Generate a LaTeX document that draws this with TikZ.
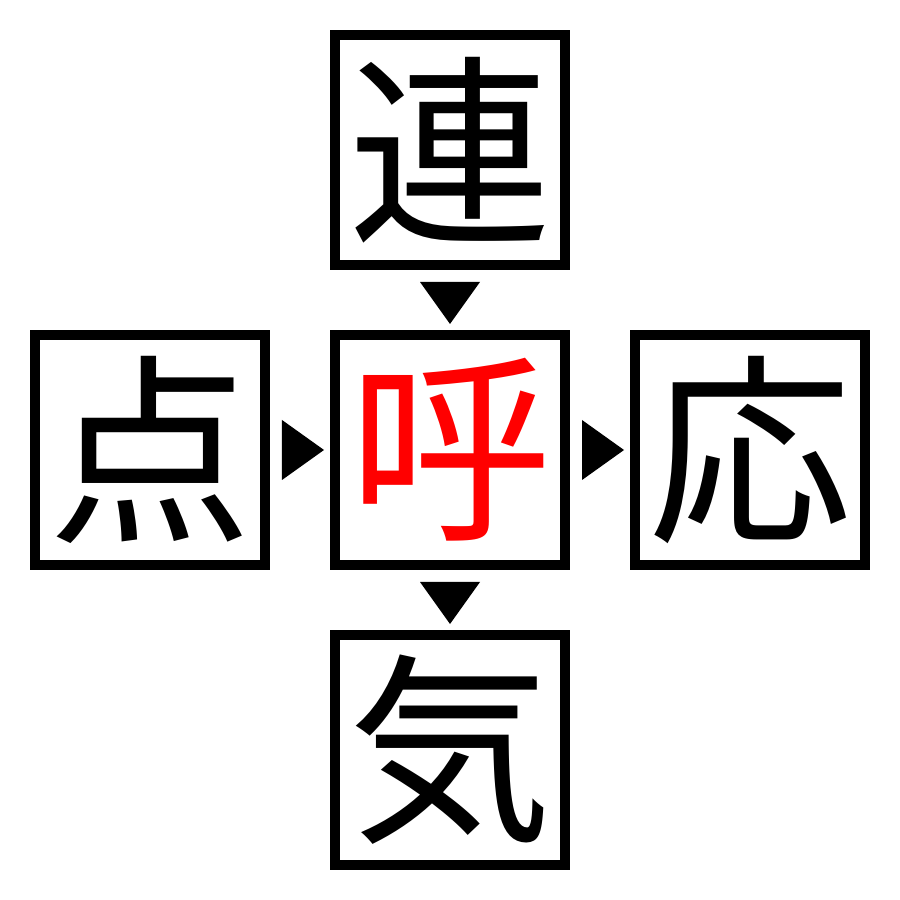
\documentclass[tikz,border=0pt]{standalone}
\usepackage{fontspec}
\newfontfamily\cjk{Noto Sans CJK JP}
\usetikzlibrary{positioning,calc}
\begin{document}
\begin{tikzpicture}[kanji/.style={draw, line width=0.1cm, minimum size=2.3cm, inner sep=0pt, font=\cjk\fontsize{58}{58}\selectfont}]
          \useasboundingbox (0, 0) rectangle (9, 9);
          \node[kanji, text=red] (hu) at (4.5, 4.5) {呼};
          \node[kanji, above=0.6cm of hu] (ren) {連};
          \node[kanji, left=0.6cm of hu] (ten) {点};
          \node[kanji, right=0.6cm of hu] (ou) {応};
          \node[kanji, below=0.6cm of hu] (ki) {気};
          \fill ([xshift=-0.3cm, yshift=-0.12cm]ren.south) -- ([xshift=0.3cm, yshift=-0.12cm]ren.south) -- ([yshift=0.06cm]hu.north) -- cycle;
          \fill ([xshift=-0.3cm, yshift=-0.12cm]hu.south) -- ([xshift=0.3cm, yshift=-0.12cm]hu.south) -- ([yshift=0.06cm]ki.north) -- cycle;
          \fill ([xshift=0.12cm, yshift=0.3cm]ten.east) -- ([xshift=0.12cm, yshift=-0.3cm]ten.east) -- ([xshift=-0.06cm]hu.west) -- cycle;
          \fill ([xshift=0.12cm, yshift=0.3cm]hu.east) -- ([xshift=0.12cm, yshift=-0.3cm]hu.east) -- ([xshift=-0.06cm]ou.west) -- cycle;
        \end{tikzpicture}
\end{document}
